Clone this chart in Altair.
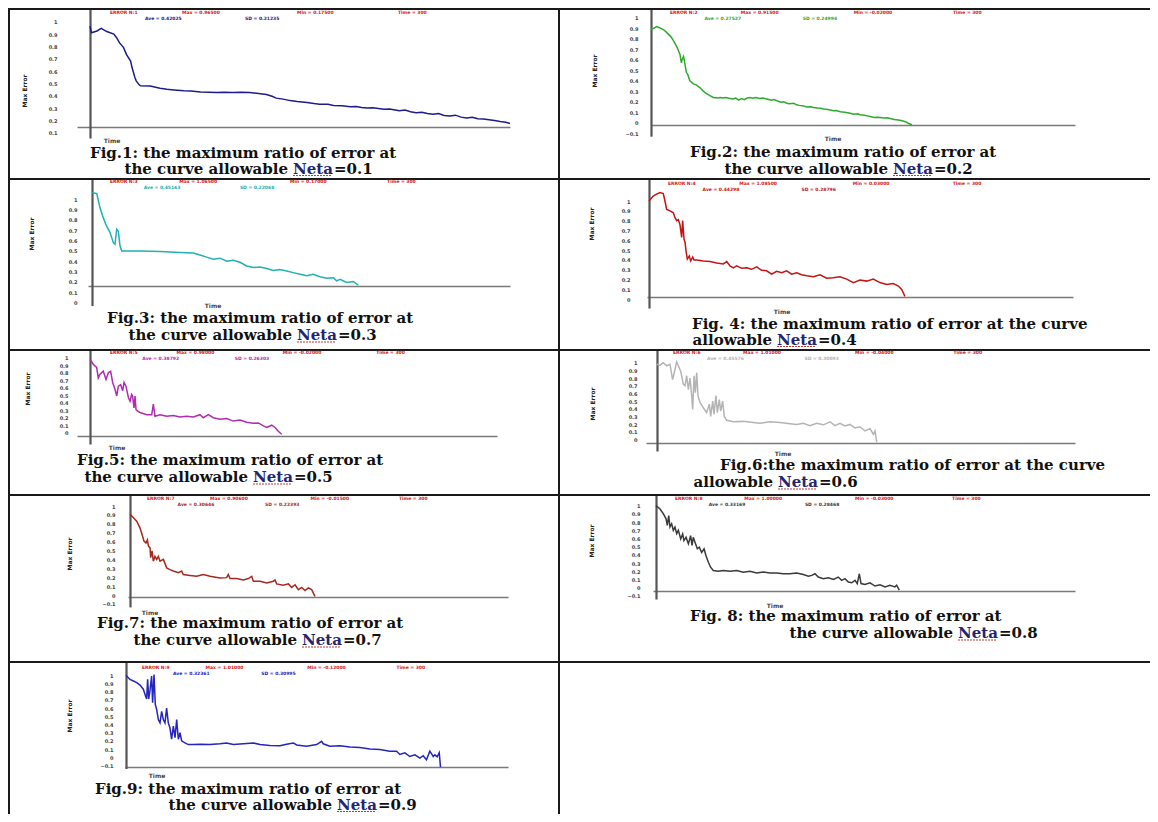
import altair as alt
import pandas as pd

# ---------------- data ----------------
t1 = [0, 1, 5, 8, 12, 17, 19, 21, 24, 26, 29, 30, 31, 32, 33, 35, 36, 43, 50, 55, 60, 67, 72, 79, 85, 90, 96, 102, 108, 114, 119, 126, 130, 133, 138, 143, 148, 155, 160, 164, 170, 174, 180, 186, 190, 194, 198, 202, 206, 210, 214, 218, 221, 225, 229, 233, 237, 241, 245, 249, 253, 257, 261, 265, 269, 273, 277, 281, 285, 289, 293, 297, 300]
v1 = [0.965, 0.91, 0.925, 0.946, 0.92, 0.90, 0.87, 0.83, 0.79, 0.735, 0.68, 0.63, 0.59, 0.55, 0.52, 0.49, 0.48, 0.478, 0.46, 0.452, 0.447, 0.44, 0.437, 0.43, 0.428, 0.425, 0.427, 0.425, 0.428, 0.426, 0.42, 0.41, 0.395, 0.38, 0.372, 0.36, 0.352, 0.345, 0.336, 0.33, 0.33, 0.32, 0.318, 0.31, 0.313, 0.305, 0.30, 0.302, 0.296, 0.29, 0.292, 0.284, 0.278, 0.283, 0.27, 0.262, 0.266, 0.255, 0.25, 0.256, 0.24, 0.235, 0.242, 0.226, 0.22, 0.225, 0.213, 0.21, 0.205, 0.198, 0.19, 0.185, 0.175]

t2 = [0, 2, 4, 6, 9, 11, 14, 16, 18, 19, 20.5, 21.5, 22, 23, 24, 25, 26, 27.5, 30, 32, 35, 37, 39, 42, 44, 47, 49, 51, 53, 55, 58, 60, 62, 64, 66, 68, 70, 72, 74, 77, 79, 82, 85, 87, 90, 92, 94, 96, 98, 101, 103, 105, 108, 110, 113, 115, 118, 120, 122, 124, 127, 129, 131, 134, 137, 139, 141, 143, 146, 148, 151, 153, 155, 158, 160, 162, 165, 167, 170, 172, 175, 177, 180, 182, 184.6]
v2 = [0.89, 0.90, 0.915, 0.905, 0.885, 0.86, 0.82, 0.78, 0.73, 0.70, 0.65, 0.57, 0.60, 0.63, 0.56, 0.48, 0.46, 0.40, 0.37, 0.36, 0.33, 0.30, 0.28, 0.255, 0.24, 0.235, 0.24, 0.236, 0.24, 0.232, 0.225, 0.235, 0.215, 0.23, 0.22, 0.235, 0.24, 0.232, 0.24, 0.23, 0.235, 0.225, 0.215, 0.22, 0.205, 0.195, 0.20, 0.185, 0.18, 0.185, 0.17, 0.165, 0.16, 0.15, 0.152, 0.145, 0.14, 0.138, 0.13, 0.128, 0.12, 0.115, 0.117, 0.105, 0.10, 0.095, 0.09, 0.08, 0.085, 0.075, 0.07, 0.065, 0.06, 0.05, 0.052, 0.05, 0.045, 0.048, 0.038, 0.03, 0.025, 0.02, 0.01, -0.005, -0.02]

t3 = [0, 3.4, 5.7, 8.1, 10.5, 12.9, 15.3, 16.5, 17.7, 18.9, 20.1, 21.3, 24.9, 34.4, 48.8, 63.2, 72.7, 77.5, 82.3, 87.1, 91.9, 96.7, 101.4, 106.2, 111, 115.8, 120.6, 125.4, 130.1, 134.9, 139.7, 144.5, 149.3, 154.1, 158.8, 163.6, 168.4, 173.2, 175.6, 178, 182.8, 187.5, 191.1]
v3 = [1.065, 1.055, 0.92, 0.82, 0.74, 0.68, 0.58, 0.565, 0.71, 0.69, 0.55, 0.50, 0.50, 0.50, 0.495, 0.485, 0.48, 0.46, 0.44, 0.42, 0.43, 0.40, 0.41, 0.39, 0.355, 0.34, 0.345, 0.33, 0.31, 0.32, 0.305, 0.29, 0.275, 0.26, 0.275, 0.25, 0.235, 0.24, 0.21, 0.225, 0.195, 0.205, 0.17]

t4 = [0, 3, 5.4, 7.8, 10.1, 11.3, 12.5, 14.9, 17.2, 18.4, 19.6, 20.8, 21.9, 23.1, 23.8, 24.8, 25.5, 26.2, 27.1, 28.5, 29.5, 30.9, 31.8, 33.7, 38.4, 43.2, 47.9, 52.6, 55, 57.3, 59.7, 62, 65.6, 69.1, 72.6, 76.2, 79.7, 83.2, 86.8, 90.3, 93.9, 97.4, 100.9, 104.5, 108, 111.6, 116.3, 121, 125.7, 130.4, 135.1, 139.9, 144.6, 149.3, 154, 158.7, 163.4, 168.2, 172.9, 176.4, 178.8, 181.1]
v4 = [1.0, 1.05, 1.07, 1.085, 1.075, 1.0, 0.915, 0.90, 0.88, 0.83, 0.80, 0.81, 0.76, 0.63, 0.80, 0.61, 0.58, 0.49, 0.41, 0.44, 0.39, 0.43, 0.40, 0.40, 0.39, 0.385, 0.37, 0.36, 0.385, 0.34, 0.32, 0.34, 0.315, 0.32, 0.305, 0.33, 0.295, 0.29, 0.255, 0.285, 0.27, 0.29, 0.255, 0.27, 0.25, 0.24, 0.23, 0.25, 0.215, 0.22, 0.23, 0.205, 0.17, 0.195, 0.185, 0.205, 0.17, 0.15, 0.16, 0.135, 0.10, 0.03]

t5 = [0, 2.5, 4.9, 6.1, 7.4, 9.8, 11.8, 13.5, 15.2, 16.7, 18.4, 19.7, 20.9, 22.6, 24.1, 25.1, 26.5, 28.3, 29.5, 30.7, 31.4, 32.4, 33.2, 33.9, 34.9, 36.9, 41.8, 45.5, 46.7, 47.9, 51.6, 56.5, 61.4, 66.3, 71.2, 76.2, 81.1, 83.5, 87.2, 90.9, 95.8, 100.7, 105.6, 110.6, 115.5, 120.4, 124.1, 127.8, 130.2, 133.9, 136.4, 138.8, 141.3]
v5 = [0.98, 0.91, 0.87, 0.73, 0.78, 0.82, 0.71, 0.80, 0.82, 0.67, 0.58, 0.49, 0.62, 0.64, 0.56, 0.67, 0.62, 0.47, 0.42, 0.51, 0.49, 0.33, 0.49, 0.31, 0.29, 0.27, 0.24, 0.24, 0.38, 0.22, 0.24, 0.22, 0.23, 0.21, 0.22, 0.21, 0.24, 0.20, 0.24, 0.20, 0.18, 0.19, 0.155, 0.17, 0.14, 0.125, 0.13, 0.09, 0.07, 0.10, 0.07, 0.02, -0.02]

t6 = [0, 2.2, 4.5, 6.9, 9.3, 11.2, 12.9, 14.1, 15.3, 17, 18.9, 20.1, 21.3, 22.5, 23.7, 24.9, 25.6, 26.6, 27.5, 28.5, 29.4, 30.9, 33.3, 35.6, 37.6, 38.5, 40, 40.9, 42.3, 43.3, 44.7, 45.7, 47.1, 48.3, 50, 54.8, 62, 69.1, 73.9, 81.1, 88.3, 95.5, 100.2, 105, 109.8, 114.6, 119.4, 124.2, 127.7, 131.3, 134.9, 138.5, 142.1, 145.7, 149.3, 152.9, 155.3, 156.5, 157.7]
v6 = [0.98, 0.965, 1.0, 0.96, 0.98, 0.78, 0.91, 1.01, 0.96, 0.89, 0.72, 0.70, 0.83, 0.65, 0.80, 0.57, 0.39, 0.83, 0.61, 0.87, 0.57, 0.48, 0.41, 0.35, 0.46, 0.30, 0.50, 0.33, 0.57, 0.35, 0.52, 0.37, 0.50, 0.30, 0.25, 0.23, 0.235, 0.22, 0.21, 0.23, 0.22, 0.205, 0.195, 0.21, 0.18, 0.21, 0.19, 0.23, 0.18, 0.21, 0.175, 0.195, 0.15, 0.165, 0.11, 0.14, 0.065, 0.11, -0.04]

t7 = [0, 2.6, 5.3, 7.9, 10, 11.1, 12.7, 13.8, 14.6, 15.9, 16.4, 17.5, 18.5, 19.8, 21.2, 22.5, 23.8, 26.5, 29.1, 31.7, 34.4, 38.4, 41, 42.3, 47.6, 52.9, 58.2, 63.5, 71.4, 76.7, 78, 79.4, 84.7, 89.9, 93.9, 96.6, 97.9, 103.2, 108.5, 113.8, 115.1, 116.4, 121.7, 125.7, 128.3, 131, 133.6, 136.3, 138.9, 141.5, 144.2, 146.8]
v7 = [0.906, 0.87, 0.83, 0.755, 0.66, 0.605, 0.585, 0.62, 0.55, 0.53, 0.42, 0.495, 0.38, 0.435, 0.40, 0.435, 0.38, 0.40, 0.305, 0.285, 0.27, 0.25, 0.27, 0.23, 0.22, 0.21, 0.23, 0.21, 0.19, 0.195, 0.23, 0.185, 0.185, 0.17, 0.185, 0.21, 0.155, 0.155, 0.135, 0.155, 0.17, 0.125, 0.11, 0.125, 0.085, 0.115, 0.06, 0.085, 0.05, 0.08, 0.06, -0.015]

t8 = [0, 2.9, 5.3, 7.2, 8.1, 9.1, 10, 11.2, 12.4, 13.6, 14.8, 16, 17.7, 19.1, 20, 21.5, 23.2, 24.8, 25.8, 26.7, 27.9, 29.6, 31, 32.7, 34.4, 35.8, 37.5, 39.1, 41, 44.6, 48.2, 53, 57.8, 62.5, 67.3, 72.1, 76.8, 81.6, 86.4, 91.2, 95.9, 100.7, 105.5, 109.1, 111.5, 113.8, 116.2, 119.8, 123.4, 127, 130.5, 132.9, 135.3, 137.7, 140.1, 142.5, 144.1, 145.6, 146.8, 149.6, 153.2, 156.8, 160.4, 164, 167.5, 171.1, 172.3, 174.2]
v8 = [1.0, 0.96, 0.90, 0.84, 0.76, 0.88, 0.74, 0.78, 0.70, 0.74, 0.66, 0.70, 0.595, 0.655, 0.575, 0.615, 0.535, 0.635, 0.515, 0.615, 0.555, 0.475, 0.495, 0.43, 0.475, 0.39, 0.31, 0.25, 0.21, 0.20, 0.21, 0.20, 0.21, 0.19, 0.20, 0.18, 0.19, 0.18, 0.18, 0.17, 0.17, 0.18, 0.16, 0.14, 0.15, 0.17, 0.13, 0.11, 0.12, 0.10, 0.13, 0.09, 0.11, 0.07, 0.06, 0.09, 0.05, 0.17, 0.05, 0.04, 0.06, 0.02, 0.035, 0.01, 0.03, 0.01, 0.03, -0.03]

t9 = [0, 3.1, 5.8, 8.4, 11, 13.6, 14.9, 16.2, 17, 17.8, 18.8, 20.1, 20.9, 22, 23, 24.1, 25.4, 26.7, 28, 29.3, 30.6, 31.9, 33.2, 34.5, 35.8, 37.2, 38.5, 39.8, 41.1, 42.4, 43.7, 46.3, 48.9, 52.9, 58.1, 65.9, 73.8, 79, 84.3, 92.1, 100, 105.2, 113, 120.9, 126.1, 131.4, 134, 141.8, 149.7, 153.6, 154.9, 160.1, 168, 175.8, 183.7, 191.5, 199.4, 207.2, 212.5, 215.1, 219, 222.9, 226.9, 230.8, 233.4, 236, 238.6, 241.3, 242.6, 244.4, 246, 247]
v9 = [1.0, 0.95, 0.93, 0.91, 0.88, 0.83, 0.77, 0.71, 0.95, 0.71, 0.81, 0.99, 0.665, 1.01, 0.645, 0.58, 0.46, 0.42, 0.56, 0.46, 0.42, 0.60, 0.42, 0.36, 0.22, 0.38, 0.24, 0.46, 0.22, 0.30, 0.20, 0.175, 0.155, 0.155, 0.16, 0.155, 0.165, 0.175, 0.155, 0.165, 0.175, 0.155, 0.145, 0.14, 0.16, 0.175, 0.15, 0.135, 0.155, 0.195, 0.165, 0.135, 0.14, 0.125, 0.12, 0.10, 0.095, 0.075, 0.075, 0.035, 0.055, 0.01, 0.03, -0.01, 0.02, -0.03, 0.075, 0.01, 0.03, 0.005, 0.055, -0.12]

TIMES = [t1, t2, t3, t4, t5, t6, t7, t8, t9]
VALUES = [v1, v2, v3, v4, v5, v6, v7, v8, v9]

# y tick labels
YT_A = [1.0, 0.9, 0.8, 0.7, 0.6, 0.5, 0.4, 0.3, 0.2, 0.1]
YT_B = [1.0, 0.9, 0.8, 0.7, 0.6, 0.5, 0.4, 0.3, 0.2, 0.1, 0.0]
YT_C = [1.0, 0.9, 0.8, 0.7, 0.6, 0.5, 0.4, 0.3, 0.2, 0.1, 0.0, -0.1]
YTICKS = [YT_A, YT_C, YT_B, YT_B, YT_B, YT_B, YT_C, YT_C, YT_C]

CAP1 = ["Fig.1:  the maximum ratio of error at", "Fig.2:  the maximum ratio of error at",
        "Fig.3:  the maximum ratio of error at", "Fig. 4:  the maximum ratio of error at the curve",
        "Fig.5:  the maximum ratio of error at", "Fig.6:the maximum ratio of error at  the curve",
        "Fig.7:  the maximum ratio of error at", "Fig. 8:  the maximum ratio of error at",
        "Fig.9:  the maximum ratio of error at"]
CAP2 = ["the curve allowable", "the curve allowable", "the curve allowable", "allowable",
        "the curve allowable", "allowable", "the curve allowable", "the curve allowable",
        "the curve allowable"]
NETA = ["=0.1", "=0.2", "=0.3", "=0.4", "=0.5", "=0.6", "=0.7", "=0.8", "=0.9"]

COLORS = ["#1c1c8c", "#2eaa2e", "#22b0b0", "#c41414", "#b02cb0",
          "#b4b4b4", "#a8281e", "#3a3a3a", "#2424c0"]

# ---------------- layout (pixels inside each table cell) ----------------
COL_W = [550, 592]
ROW_H = [170, 171, 145, 167, 153]
LAY = [
    dict(yax=82, ybot=130, v1y=13.7, step=12.33, xay=119, xl=69, xr=502, labx=49, ylab=(17, 83), time=(104, 133), head=(102, 5, 343), cap=(82, 146, 285, 160)),
    dict(yax=93, ybot=128, v1y=9.7, step=10.5, xay=117, xl=93, xr=517, labx=80, ylab=(37, 63), time=(275, 131), head=(112, 5, 337), cap=(132, 145, 335, 160)),
    dict(yax=84, ybot=118, v1y=21.3, step=10.33, xay=108, xl=80, xr=502, labx=69, ylab=(24, 56), time=(205, 128), head=(102, 4, 330), cap=(99, 141, 289, 156)),
    dict(yax=91, ybot=130, v1y=23, step=9.83, xay=119, xl=89, xr=515, labx=72, ylab=(34, 46), time=(224, 133.5), head=(110, 6, 339), cap=(134, 148, 219, 162)),
    dict(yax=82, ybot=95, v1y=8.7, step=7.5, xay=87, xl=69, xr=489, labx=60, ylab=(20, 40), time=(109, 99), head=(102, 4, 317), cap=(69, 112, 245, 127)),
    dict(yax=99, ybot=102, v1y=13.7, step=7.67, xay=99 - 5, xl=88, xr=517, labx=79, ylab=(35, 55), time=(225, 105), head=(115, 4, 334), cap=(162, 117, 220, 132)),
    dict(yax=122, ybot=112, v1y=12, step=8.9, xay=103, xl=120, xr=500, labx=107, ylab=(62, 60), time=(142, 119), head=(139, 5, 300), cap=(89, 130, 294, 145)),
    dict(yax=98, ybot=105, v1y=11.7, step=8.2, xay=97, xl=95, xr=517, labx=82, ylab=(34, 47), time=(217, 112), head=(117, 5, 330), cap=(132, 123, 400, 138)),
    dict(yax=118, ybot=107, v1y=14.3, step=8.2, xay=106, xl=117, xr=500, labx=105, ylab=(62, 55), time=(149, 114.5), head=(134, 7, 303), cap=(87, 128.5, 329, 143)),
]
CAP_FONT = "DejaVu Serif"
CAP_SIZE = 15
CAP_PITCH = 16
NETA_W = 41
HEAD_SIZE = 4.5
BORDER = "#1a1a1a"
Y_TOP = 1.5  # keep the y-axis domain line inside the cell


def txt(s, x, y, size, color, font="DejaVu Sans", weight="bold", align="left", angle=0):
    kw = dict(align=align, baseline="middle", fontSize=size, font=font,
              fontWeight=weight, color=color)
    if angle:
        kw["angle"] = angle
    return alt.Chart(pd.DataFrame({"s": [s]})).mark_text(**kw).encode(
        x=alt.value(x), y=alt.value(y), text="s:N")


def block(x, x2, y, y2, color=BORDER):
    return alt.Chart(pd.DataFrame({"s": [0]})).mark_rect(color=color).encode(
        x=alt.value(x), x2=alt.value(x2), y=alt.value(y), y2=alt.value(y2))


def squiggle(x, x2, y):
    return alt.Chart(pd.DataFrame({"s": [0]})).mark_rule(
        color="#b83a3a", strokeWidth=1.2, strokeDash=[2, 1]).encode(
        x=alt.value(x), x2=alt.value(x2), y=alt.value(y))


def cell_borders(W, H):
    # each cell draws its own top and left edge of the table grid
    return [block(0, W, 0, 2), block(0, 2, 0, H)]


def cell(k, W, H):
    L = LAY[k]
    t, v = TIMES[k], VALUES[k]
    df = pd.DataFrame({"Time": t, "Max Error": v})
    ticks = YTICKS[k]
    tot = 10 * L["step"]
    lo_px = L["v1y"] + (1 - ticks[-1]) * tot
    ybot = max(L["ybot"], lo_px + 3)
    vtop = 1 + (L["v1y"] - Y_TOP) / tot
    vbot = 1 - (ybot - L["v1y"]) / tot
    tl = -(L["yax"] - L["xl"]) * 300 / (L["xr"] - L["yax"])

    line = alt.Chart(df).mark_line(color=COLORS[k], strokeWidth=1.5).encode(
        x=alt.X("Time:Q",
                scale=alt.Scale(domain=[tl, 300], range=[L["xl"], L["xr"]], nice=False, zero=False),
                axis=alt.Axis(orient="bottom", offset=L["xay"] - H, labels=False, ticks=False,
                              grid=False, title=None, domainColor="#7a7a7a", domainWidth=1.6)),
        y=alt.Y("Max Error:Q",
                scale=alt.Scale(domain=[vbot, vtop], range=[ybot, Y_TOP], nice=False, zero=False),
                axis=alt.Axis(orient="left", offset=-L["yax"], values=ticks, format=".1~f",
                              ticks=False, grid=False, title=None, labelOverlap=False,
                              labelFontSize=5, labelFont="DejaVu Sans", labelFontWeight="bold",
                              labelColor="#444", labelPadding=L["yax"] - L["labx"],
                              domainColor="#555", domainWidth=2.2)),
    )

    layers = [line] + cell_borders(W, H)
    # header statistics (two tiny lines above the plot)
    hx, hy1, span = L["head"]
    hy2 = hy1 + 5.5
    f = span / 343.0
    mx, mn = max(v), min(v)
    ave = sum(v) / len(v)
    sd = (sum((a - ave) ** 2 for a in v) / len(v)) ** 0.5
    h1 = [f"ERROR N:{k + 1}", f"Max = {mx:.5f}", f"Min = {mn:.5f}", "Time = 300"]
    for s, off in zip(h1, [0, 72, 187, 288]):
        layers.append(txt(s, hx + off * f, hy1, HEAD_SIZE, "#d42020"))
    h2 = [f"Ave = {ave:.5f}", f"SD = {sd:.5f}"]
    for s, off in zip(h2, [35, 135]):
        layers.append(txt(s, hx + off * f, hy2, HEAD_SIZE, COLORS[k]))
    # axis titles
    layers.append(txt("Max Error", L["ylab"][0], L["ylab"][1], 6, "#222", angle=270, align="center"))
    layers.append(txt("Time", L["time"][0], L["time"][1], 6, "#444", align="center"))
    # caption (two lines)
    cx, cy1, nx, cy2 = L["cap"]
    cy2 = min(cy2 + 1, H - 9.5)
    cy1 = min(cy1 - 1, cy2 - CAP_PITCH)
    layers.append(txt(CAP1[k], cx, cy1, CAP_SIZE, "#111", font=CAP_FONT))
    layers.append(txt(CAP2[k], nx - 5, cy2, CAP_SIZE, "#111", font=CAP_FONT, align="right"))
    layers.append(squiggle(nx, nx + NETA_W - 2, cy2 + 7))
    layers.append(txt("Neta", nx, cy2, CAP_SIZE, "#25256e", font=CAP_FONT))
    layers.append(txt(NETA[k], nx + NETA_W, cy2, CAP_SIZE, "#111", font=CAP_FONT))
    return alt.layer(*layers).properties(width=W, height=H)


def empty(W, H):
    return alt.layer(*cell_borders(W, H)).properties(width=W, height=H)


rows = []
for r in range(5):
    cells = []
    for c in range(2):
        k = r * 2 + c
        if k < 9:
            cells.append(cell(k, COL_W[c], ROW_H[r]))
        else:
            cells.append(empty(COL_W[c], ROW_H[r]))
    rows.append(alt.hconcat(*cells, spacing=0))

chart = alt.vconcat(*rows, spacing=0).properties(
    padding={"left": 0, "top": 0, "right": 0, "bottom": 0}
).configure_view(stroke="transparent", strokeWidth=0).configure_concat(spacing=0)

chart.save("out.html", embed_options={"renderer": "svg", "actions": False})
